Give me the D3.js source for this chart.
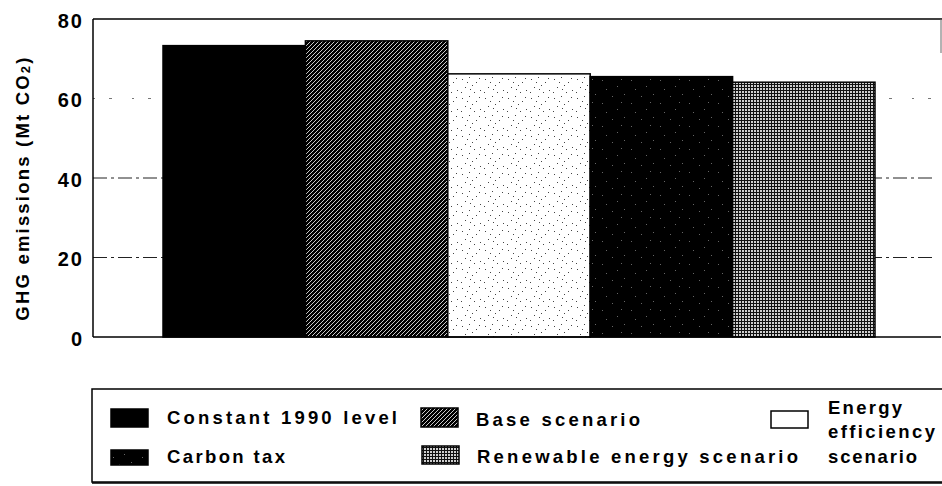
<!DOCTYPE html>
<html><head><meta charset="utf-8">
<script src="https://cdn.jsdelivr.net/npm/d3@7"></script>
<style>
body{margin:0;background:#fff}
svg{display:block}
text{font-family:"Liberation Sans",Arial,Helvetica,sans-serif;font-weight:bold;fill:#000}
</style>
</head><body>
<svg id="c" width="942" height="486"></svg>
<script>
// ---- data ----
const categories = ["Constant 1990 level","Base scenario","Energy efficiency scenario","Carbon tax","Renewable energy scenario"];
const values = [73.3, 74.5, 66.2, 65.5, 64.1];
const yTicks = [0, 20, 40, 60, 80];
const gridTicks = [20, 40, 60];
const yTitleMain = "GHG emissions (Mt CO";
const yTitleSub = "2";
const yTitleEnd = ")";
const legendOrder = ["Constant 1990 level","Base scenario","Energy efficiency scenario","Carbon tax","Renewable energy scenario"];
const legendLines = [["Constant 1990 level"],["Base scenario"],["Energy","efficiency","scenario"],["Carbon tax"],["Renewable energy scenario"]];

// ---- layout ----
const svg = d3.select("#c");
const plot = {left:93, top:19, right:941, bottom:337};
const x = d3.scaleBand().domain(categories).range([163, 875]).padding(0);
const y = d3.scaleLinear().domain([0, 80]).range([plot.bottom, plot.top]);

// ---- patterns ----
const defs = svg.append("defs");
const fillId = {};
fillId[categories[0]] = "#000";
{
  const p = defs.append("pattern").attr("id","hatch").attr("patternUnits","userSpaceOnUse").attr("width",4).attr("height",4);
  p.append("rect").attr("width",4).attr("height",4).attr("fill","#000");
  p.append("path").attr("d","M-1,1 L1,-1 M0,4 L4,0 M3,5 L5,3").attr("stroke","#fff").attr("stroke-width",0.8);
  fillId[categories[1]] = "url(#hatch)";
}
{
  const p = defs.append("pattern").attr("id","stip").attr("patternUnits","userSpaceOnUse").attr("width",23).attr("height",19);
  p.append("rect").attr("width",23).attr("height",19).attr("fill","#fff");
  const dots = [[2,3],[9,1],[16,6],[5,11],[12,9],[20,14],[1,16],[14,16],[7,6],[19,2],[10,13]];
  p.selectAll("rect.d").data(dots).join("rect").attr("class","d").attr("x",d=>d[0]).attr("y",d=>d[1]).attr("width",1).attr("height",1).attr("fill","#444");
  fillId[categories[2]] = "url(#stip)";
}
{
  const p = defs.append("pattern").attr("id","speck").attr("patternUnits","userSpaceOnUse").attr("width",29).attr("height",23);
  p.append("rect").attr("width",29).attr("height",23).attr("fill","#000");
  const dots = [[3,4],[15,2],[22,11],[8,17],[26,20],[12,10]];
  p.selectAll("rect.d").data(dots).join("rect").attr("class","d").attr("x",d=>d[0]).attr("y",d=>d[1]).attr("width",1).attr("height",1).attr("fill","#666");
  fillId[categories[3]] = "url(#speck)";
}
{
  const p = defs.append("pattern").attr("id","mesh").attr("patternUnits","userSpaceOnUse").attr("width",3).attr("height",3);
  p.append("rect").attr("width",3).attr("height",3).attr("fill","#111");
  p.append("rect").attr("x",1).attr("y",1).attr("width",2).attr("height",2).attr("fill","#cfcfcf");
  fillId[categories[4]] = "url(#mesh)";
}

// ---- gridlines (behind bars) ----
svg.append("g").selectAll("line").data(gridTicks).join("line")
  .attr("x1", plot.left).attr("x2", 936)
  .attr("y1", d => y(d)).attr("y2", d => y(d))
  .attr("stroke", d => d === 60 ? "#777" : "#222")
  .attr("stroke-width", 1)
  .attr("stroke-dasharray", d => d === 60 ? "2,14,3,20" : "14,4,3,4");

// ---- bars ----
svg.append("g").selectAll("rect").data(categories).join("rect")
  .attr("x", d => x(d))
  .attr("width", x.bandwidth())
  .attr("y", (d,i) => y(values[i]))
  .attr("height", (d,i) => y(0) - y(values[i]))
  .attr("fill", d => fillId[d])
  .attr("stroke", "#000")
  .attr("stroke-width", 1.5);

// ---- frame ----
const fr = svg.append("g").attr("stroke","#000").attr("fill","none");
fr.append("line").attr("x1",plot.left).attr("x2",plot.right+1).attr("y1",plot.top).attr("y2",plot.top).attr("stroke-width",1.5);
fr.append("line").attr("x1",plot.left).attr("x2",plot.left).attr("y1",plot.top).attr("y2",plot.bottom).attr("stroke-width",1.5);
fr.append("line").attr("x1",plot.left).attr("x2",plot.right).attr("y1",plot.bottom).attr("y2",plot.bottom).attr("stroke-width",1.5);
fr.append("line").attr("x1",plot.right).attr("x2",plot.right).attr("y1",plot.top).attr("y2",53).attr("stroke-width",1).attr("stroke","#666");

// ---- y axis ----
const yAxis = svg.append("g").attr("transform",`translate(${plot.left},0)`)
  .call(d3.axisLeft(y).tickValues(yTicks).tickSize(0).tickPadding(9).tickFormat(d3.format("d")));
yAxis.select(".domain").remove();
yAxis.selectAll("text")
  .attr("font-family",'"Liberation Sans",Arial,sans-serif')
  .attr("font-weight","bold")
  .attr("font-size",20)
  .attr("letter-spacing","2px")
  .attr("dy","0.4em")
  .attr("fill","#000");

// ---- y title ----
const yt = svg.append("text")
  .attr("transform","translate(29,188) rotate(-90)")
  .attr("text-anchor","middle")
  .attr("font-size",18.5)
  .attr("letter-spacing","2.2px");
yt.append("tspan").text(yTitleMain);
yt.append("tspan").attr("font-size",13).attr("dy",1).text(yTitleSub);
yt.append("tspan").attr("dy",-1).text(yTitleEnd);

// ---- legend ----
const lg = svg.append("g");
lg.append("path").attr("d","M942,389 L92,389 L92,482 L942,482").attr("fill","none").attr("stroke","#000").attr("stroke-width",1.5);
lg.append("line").attr("x1",92).attr("x2",942).attr("y1",483).attr("y2",483).attr("stroke","#000").attr("stroke-width",1.5);

const legendLayout = [
  {sw:[111,409,37,18], tx:167, ty:[424], tl:[230]},
  {sw:[421,408,37,19], tx:476, ty:[426], tl:[164]},
  {sw:[771,411,37,17], tx:828, ty:[414,438,463], tl:[74,107,89]},
  {sw:[111,450,37,15], tx:167, ty:[463], tl:[118]},
  {sw:[422,446,37,18], tx:477, ty:[463], tl:[321]}
];
legendOrder.forEach((cat, i) => {
  const L = legendLayout[i];
  lg.append("rect").attr("x",L.sw[0]).attr("y",L.sw[1]).attr("width",L.sw[2]).attr("height",L.sw[3])
    .attr("fill", cat === categories[2] ? "#fff" : fillId[cat]).attr("stroke","#000").attr("stroke-width",1.5);
  legendLines[i].forEach((line, j) => {
    lg.append("text").attr("x",L.tx).attr("y",L.ty[j])
      .attr("font-size",18.5)
      .attr("textLength",L.tl[j]).attr("lengthAdjust","spacing")
      .text(line);
  });
});
</script>
</body></html>
